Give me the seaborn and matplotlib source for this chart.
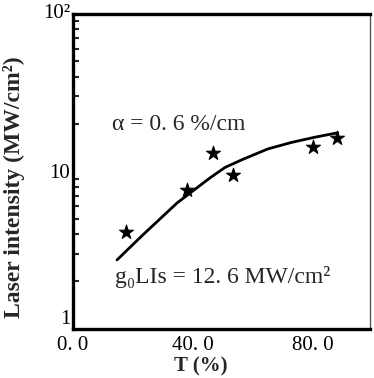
import matplotlib
matplotlib.use("Agg")
import matplotlib.pyplot as plt
import seaborn as sns
import pandas as pd
from matplotlib.ticker import FixedLocator, FixedFormatter, LogLocator, NullFormatter

# measured points (stars)
t_meas = [17.7, 38.0, 46.7, 53.3, 80.0, 88.0]
i_meas = [4.1, 7.6, 13.1, 9.5, 14.3, 16.3]
# theoretical curve
t_curve = [14.7, 23.3, 34.7, 45.7, 50.7, 56.5, 65.0, 73.0, 80.7, 88.3]
i_curve = [2.74, 3.95, 6.3, 9.1, 10.6, 11.9, 13.9, 15.3, 16.5, 17.6]

x_ticks = [0, 20, 40, 60, 80]
x_ticklabels = ["0. 0", "", "40. 0", "", "80. 0"]
y_ticks = [1, 10, 100]
y_ticklabels = ["1", "10", "10²"]

sns.set_theme(style="white")
plt.rcParams["font.family"] = ["Liberation Serif", "DejaVu Serif"]

fig = plt.figure(figsize=(3.74, 3.78), dpi=100)
ax = fig.add_axes([0.195, 0.130, 0.794, 0.833])

df_c = pd.DataFrame({"T": t_curve, "I": i_curve})
df_m = pd.DataFrame({"T": t_meas, "I": i_meas})
sns.lineplot(data=df_c, x="T", y="I", ax=ax, color="black", linewidth=2.0)
sns.scatterplot(data=df_m, x="T", y="I", ax=ax, marker="*", s=110, color="black",
                edgecolor="black", linewidth=0.8, zorder=3)

ax.set_yscale("log")
ax.set_xlim(0, 99)
ax.set_ylim(1, 100)

ax.xaxis.set_major_locator(FixedLocator(x_ticks))
ax.xaxis.set_major_formatter(FixedFormatter(x_ticklabels))
ax.yaxis.set_major_locator(FixedLocator(y_ticks))
ax.yaxis.set_major_formatter(FixedFormatter(y_ticklabels))
ax.yaxis.set_minor_locator(LogLocator(base=10, subs=range(2, 10)))
ax.yaxis.set_minor_formatter(NullFormatter())

ax.tick_params(axis="x", which="major", direction="in", length=6, width=2,
               labelsize=15, pad=5, colors="black")
ax.tick_params(axis="y", which="major", direction="in", length=6, width=2,
               labelsize=15, pad=2, colors="black")
ax.tick_params(axis="y", which="minor", direction="in", length=4, width=1.5,
               left=True)
for lbl in ax.get_yticklabels():
    if lbl.get_text() == "1":
        lbl.set_verticalalignment("bottom")
    elif lbl.get_text() == "10²":
        lbl.set_verticalalignment("center")

for side in ["left", "bottom", "top"]:
    ax.spines[side].set_linewidth(2.4)
    ax.spines[side].set_color("black")
ax.spines["right"].set_linewidth(1.0)
ax.spines["right"].set_color("#555555")

ax.set_xlabel("T (%)", fontsize=15, fontweight="bold")
ax.xaxis.set_label_coords(0.43, -0.088)
ax.set_ylabel("Laser intensity (MW/cm²)", fontsize=17, fontweight="bold")
ax.yaxis.set_label_coords(-0.16, 0.45)

ax.text(0.13, 0.65, "α = 0. 6 %/cm", transform=ax.transAxes, fontsize=17,
        ha="left", va="center")
ax.text(0.14, 0.165, "g₀LIs = 12. 6 MW/cm²", transform=ax.transAxes, fontsize=17,
        ha="left", va="center")

fig.savefig("out.png", dpi=100)
